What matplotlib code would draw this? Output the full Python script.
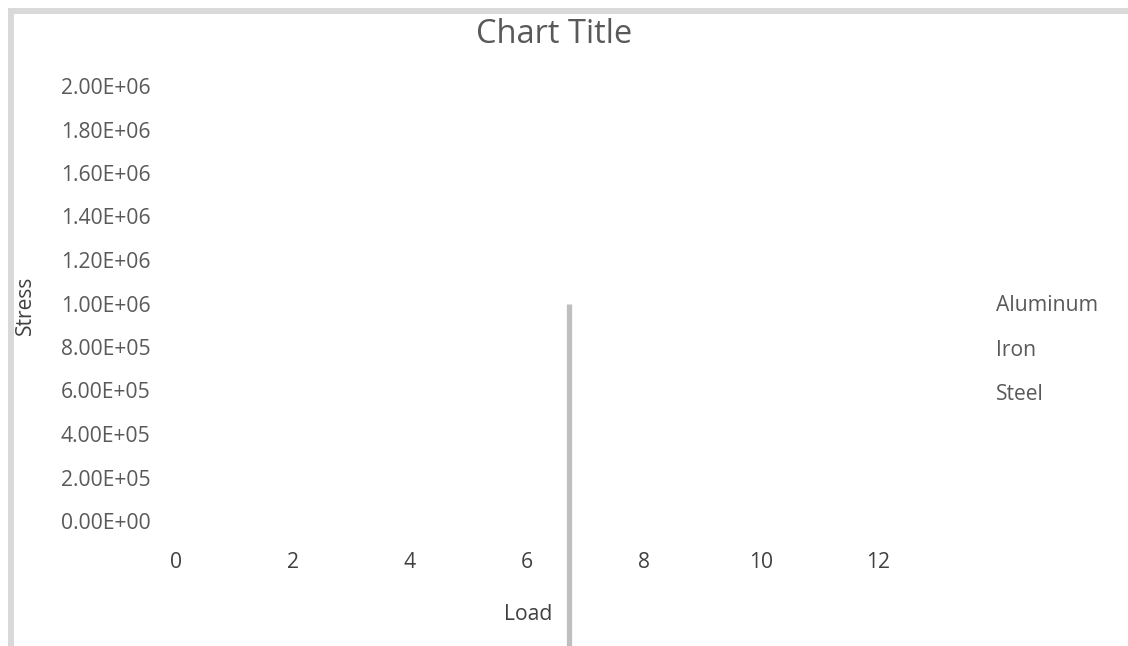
import matplotlib
matplotlib.use("Agg")
import matplotlib.pyplot as plt
from matplotlib.patches import Rectangle
from matplotlib.ticker import FuncFormatter

# series names (no visible points in the chart)
series_names = ["Aluminum", "Iron", "Steel"]
series_x = [[], [], []]
series_y = [[], [], []]

# the one visible mark: a grey vertical bar
bar_x = [6.71, 6.71]
bar_y = [1.0e6, -0.6e6]

x_ticks = [0, 2, 4, 6, 8, 10, 12]
y_ticks = [0, 2e5, 4e5, 6e5, 8e5, 1.0e6, 1.2e6, 1.4e6, 1.6e6, 1.8e6, 2.0e6]

plt.rcParams['font.family'] = ['Open Sans', 'DejaVu Sans']

W, H = 1128, 646
fig = plt.figure(figsize=(W / 100, H / 100), dpi=100)

def px(x, y):
    return x / W, 1 - y / H

# axes area: x 0->176px, 12->878px ; y 0->521px, 2e6->86px
l, b = px(176, 521)
r, t = px(878, 86)
ax = fig.add_axes([l, b, r - l, t - b])
ax.set_xlim(0, 12)
ax.set_ylim(0, 2.0e6)

for name, xs, ys in zip(series_names, series_x, series_y):
    ax.plot(xs, ys, label=name)

ax.plot(bar_x, bar_y, color='#bfbfbf', lw=3.8, clip_on=False, solid_capstyle='butt')

for s in ax.spines.values():
    s.set_visible(False)
ax.set_xticks(x_ticks)
ax.set_yticks(y_ticks)
ax.yaxis.set_major_formatter(FuncFormatter(lambda v, p: "%.2E" % v))
ax.tick_params(axis='y', length=0, pad=18.5, labelsize=15.2, labelcolor='#595959')
ax.tick_params(axis='x', length=0, pad=22, labelsize=15.2, labelcolor='#404040')

fig.text(*px(528, 614), "Load", ha='center', va='center', fontsize=15.2, color='#404040')
fig.text(*px(25, 305), "Stress", ha='center', va='center', rotation=90,
         fontsize=15.2, color='#404040')
fig.text(*px(554.5, 43), "Chart Title", ha='center', va='baseline',
         fontsize=23.5, color='#595959')

leg = ax.legend(loc='upper left', bbox_to_anchor=px(996, 295),
                bbox_transform=fig.transFigure, frameon=False,
                handlelength=0, handletextpad=0, fontsize=15.2,
                labelspacing=1.12, borderpad=0, borderaxespad=0)
for h in leg.legend_handles:
    h.set_visible(False)
for txt in leg.get_texts():
    txt.set_color('#595959')

# chart border (only left and top visible)
x0, y0 = px(11, 10.5)
fig.patches.append(Rectangle((x0, -0.2), 1.3, y0 + 0.2, transform=fig.transFigure,
                             fill=False, edgecolor='#d9d9d9', lw=4.3))

fig.savefig("out.png", dpi=100)
